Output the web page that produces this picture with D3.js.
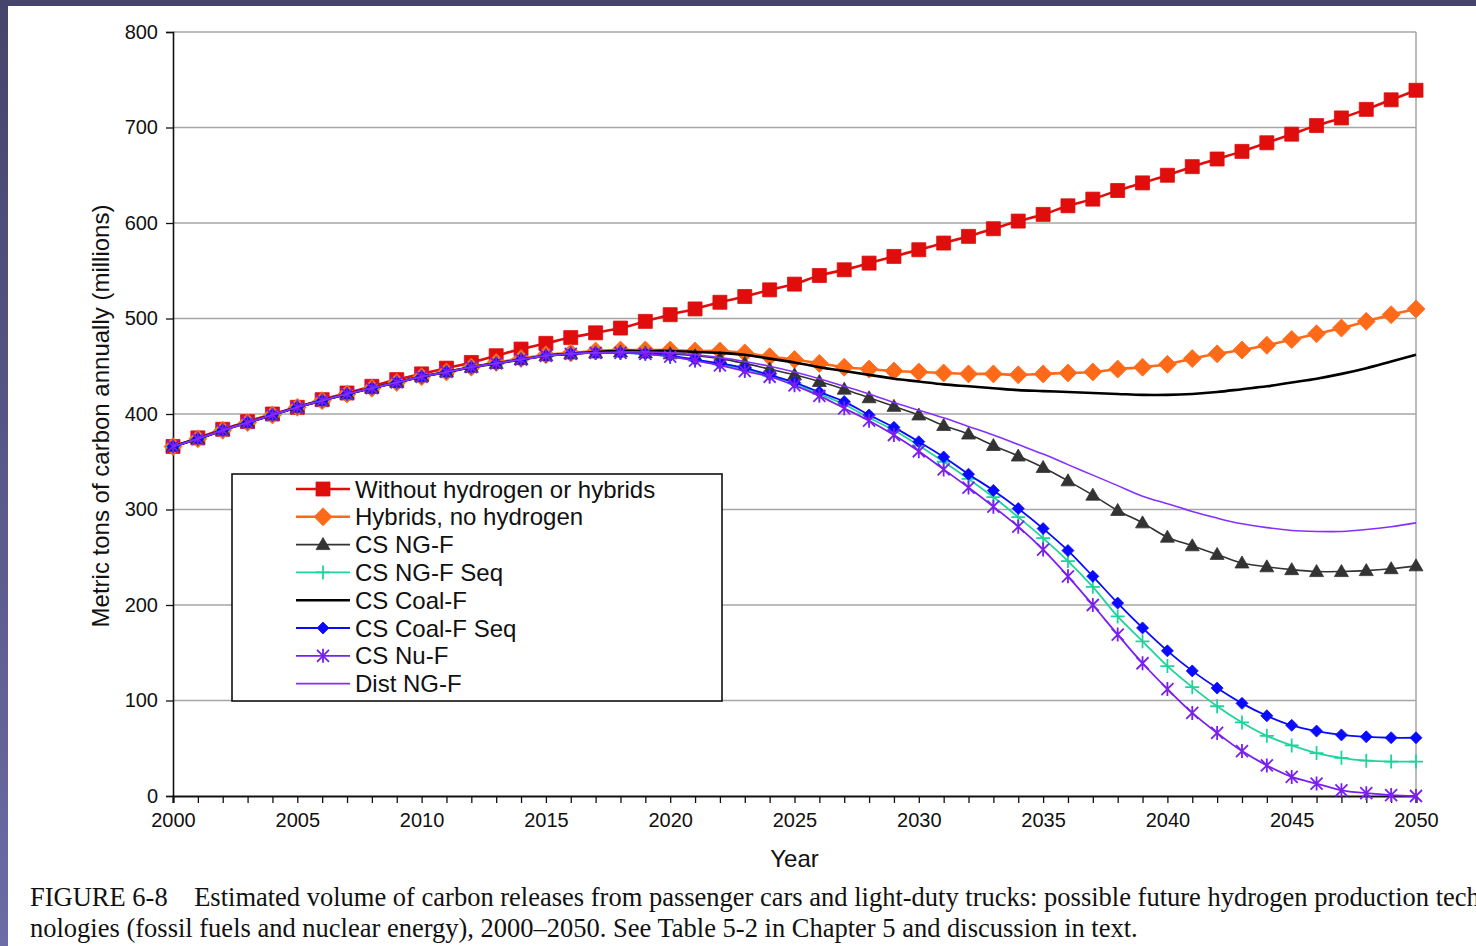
<!DOCTYPE html>
<html>
<head>
<meta charset="utf-8">
<script src="https://cdn.jsdelivr.net/npm/d3@7"></script>
<style>
  html, body { margin: 0; padding: 0; }
  body {
    width: 1476px; height: 946px; overflow: hidden;
    background: linear-gradient(180deg, #44446c 0%, #5a5a8c 55%, #6c6ca6 100%);
  }
  #chart { position: absolute; left: 8px; top: 6px; width: 1468px; height: 940px; background: #fff; }
  svg { display: block; }
</style>
</head>
<body>
<div id="chart"></div>
<script>
// ---------- Data (million metric tons of carbon, 2000-2050) ----------
const years = d3.range(2000, 2051);

const withoutH2 = [366,375,384,392,400,407,415,422,429,436, 442,448,454,461,468,474,480,485,490,497,
  504,510,517,523,530,536,545,551,558,565, 572,579,586,594,602,609,618,625,634,642,
  650,659,667,675,684,693,702,710,719,729, 739];
const hybrids = [366,374,383,391,399,407,414,421,427,433, 439,444,449,454,458,462,464,466,467,467,
  467,466,466,464,460,457,453,449,447,445, 444,443,442,442,441,442,443,444,447,449,
  452,458,463,467,472,478,484,490,497,504, 510];
const csNgF = [366,374,383,391,399,407,414,421,427,433, 439,444,449,453,457,461,463,464,465,464,
  463,461,458,453,447,441,434,426,417,408, 399,388,379,367,356,344,330,315,299,286,
  271,262,253,244,240,237,235,235,236,238, 241];
const csNgFSeq = [366,374,383,391,399,407,414,421,427,433, 439,444,449,453,457,461,463,464,464,463,
  460,456,452,447,440,432,421,410,396,383, 367,350,332,313,292,270,246,219,188,162,
  136,114,94,77,63,53,45,40,37,36, 36];
const csCoalF = [366,374,383,391,399,407,414,421,427,433, 439,444,449,453,457,461,463,465,466,466,
  466,465,464,462,458,454,449,445,441,437, 434,431,429,427,425,424,423,422,421,420,
  420,421,423,426,429,433,437,442,448,455, 462];
const csCoalFSeq = [366,374,383,391,399,407,414,421,427,433, 439,444,449,453,457,461,463,464,464,463,
  461,457,453,448,441,433,423,413,399,386, 371,355,337,320,301,280,257,230,202,176,
  152,131,113,97,84,74,68,64,62,61, 61];
const csNuF = [366,374,383,391,399,407,414,421,427,433, 439,444,449,453,457,461,463,464,464,463,
  460,456,451,445,439,430,419,406,393,378, 361,342,323,303,282,258,230,200,169,139,
  112,87,66,47,32,20,13,6,3,1, 0];
const distNgF = [366,374,383,391,399,407,414,421,427,433, 439,444,449,453,457,461,463,464,465,465,
  464,462,459,455,450,444,437,429,421,412, 404,396,387,378,368,358,347,336,325,314,
  306,298,291,285,281,278,277,277,279,282, 286];

const seriesNames = ["Without hydrogen or hybrids", "Hybrids, no hydrogen", "CS NG-F", "CS NG-F Seq",
  "CS Coal-F", "CS Coal-F Seq", "CS Nu-F", "Dist NG-F"];
const seriesValues = [withoutH2, hybrids, csNgF, csNgFSeq, csCoalF, csCoalFSeq, csNuF, distNgF];
const yTicks = [0, 100, 200, 300, 400, 500, 600, 700, 800];

// ---------- Styles ----------
const STYLES = [
  { color: "#e00d0d", width: 2.6, marker: "square" },
  { color: "#ff6a18", width: 2.6, marker: "diamond" },
  { color: "#333333", width: 1.6, marker: "triangle" },
  { color: "#1ed49c", width: 1.8, marker: "plus" },
  { color: "#000000", width: 2.6, marker: null },
  { color: "#0a0aff", width: 1.8, marker: "smalldiamond" },
  { color: "#7a1ff0", width: 1.8, marker: "star" },
  { color: "#8430ff", width: 1.6, marker: null },
];

function markerPath(type) {
  switch (type) {
    case "square": return "M-7,-7H7V7H-7Z";
    case "diamond": return "M0,-9L9,0L0,9L-9,0Z";
    case "smalldiamond": return "M0,-6L6,0L0,6L-6,0Z";
    case "triangle": return "M0,-7L7,5L-7,5Z";
    case "plus": return "M-7,0H7M0,-7V7";
    case "star": return "M-6,-6L6,6M6,-6L-6,6M0,-7V7";
  }
  return null;
}
const strokeOnly = (t) => t === "plus" || t === "star";

// ---------- Chart ----------
const W = 1468, H = 940, OX = 8, OY = 6;
const svg = d3.select("#chart").append("svg").attr("width", W).attr("height", H)
  .attr("font-family", "Liberation Sans, Arial, sans-serif");
const g = svg.append("g").attr("transform", `translate(${-OX},${-OY})`);

const x = d3.scaleLinear().domain([2000, 2050]).range([173, 1416]);
const y = d3.scaleLinear().domain([0, 800]).range([796, 32]);

// gridlines
g.append("g").selectAll("line").data(yTicks.filter((d) => d > 0)).enter().append("line")
  .attr("x1", x(2000)).attr("x2", x(2050))
  .attr("y1", (d) => y(d)).attr("y2", (d) => y(d))
  .attr("stroke", "#a6a6a6").attr("stroke-width", 1.3);
g.append("line").attr("x1", x(2050)).attr("x2", x(2050)).attr("y1", y(800)).attr("y2", y(0))
  .attr("stroke", "#a6a6a6").attr("stroke-width", 1.5);

// y axis
const yAxis = g.append("g").attr("transform", `translate(${x(2000)},0)`)
  .call(d3.axisLeft(y).tickValues(yTicks).tickSize(7).tickPadding(8));
yAxis.select(".domain").attr("stroke", "#111").attr("stroke-width", 1.6);
yAxis.selectAll(".tick line").attr("stroke", "#111").attr("stroke-width", 1.3);
yAxis.selectAll("text").attr("font-size", 20).attr("fill", "#111").attr("font-family", "Liberation Sans, Arial, sans-serif");

// x axis
const xAxis = g.append("g").attr("transform", `translate(0,${y(0)})`)
  .call(d3.axisBottom(x).tickValues(years).tickSize(7).tickPadding(10)
    .tickFormat((d) => (d % 5 === 0 ? d : "")));
xAxis.select(".domain").attr("stroke", "#111").attr("stroke-width", 2.2);
xAxis.selectAll(".tick line").attr("stroke", "#111").attr("stroke-width", 1.3);
xAxis.selectAll("text").attr("font-size", 20).attr("fill", "#111").attr("font-family", "Liberation Sans, Arial, sans-serif");

// axis titles
g.append("text").attr("x", x(2025)).attr("y", 867).attr("text-anchor", "middle")
  .attr("font-size", 24).attr("fill", "#111").text("Year");
g.append("text").attr("transform", `translate(109,${(y(800) + y(0)) / 2 + 2}) rotate(-90)`)
  .attr("text-anchor", "middle").attr("font-size", 24).attr("fill", "#111")
  .text("Metric tons of carbon annually (millions)");

// series
const line = d3.line().x((d, i) => x(years[i])).y((d) => y(d)).curve(d3.curveCatmullRom.alpha(0.5));
seriesValues.forEach((vals, k) => {
  const st = STYLES[k];
  const sg = g.append("g");
  sg.append("path").datum(vals).attr("d", line).attr("fill", "none")
    .attr("stroke", st.color).attr("stroke-width", st.width).attr("stroke-linejoin", "round");
  if (st.marker) {
    const p = markerPath(st.marker);
    sg.selectAll("path.m").data(vals).enter().append("path").attr("class", "m")
      .attr("transform", (d, i) => `translate(${x(years[i])},${y(d)})`)
      .attr("d", p)
      .attr("fill", strokeOnly(st.marker) ? "none" : st.color)
      .attr("stroke", st.color)
      .attr("stroke-width", strokeOnly(st.marker) ? 1.8 : 0.8);
  }
});

// legend
const lg = g.append("g");
lg.append("rect").attr("x", 232).attr("y", 474).attr("width", 490).attr("height", 227)
  .attr("fill", "#fff").attr("stroke", "#111").attr("stroke-width", 1.6);
seriesNames.forEach((name, k) => {
  const st = STYLES[k];
  const cy = 489 + k * 27.8;
  lg.append("line").attr("x1", 296).attr("x2", 350).attr("y1", cy).attr("y2", cy)
    .attr("stroke", st.color).attr("stroke-width", st.width);
  if (st.marker) {
    lg.append("path").attr("transform", `translate(323,${cy})`).attr("d", markerPath(st.marker))
      .attr("fill", strokeOnly(st.marker) ? "none" : st.color).attr("stroke", st.color)
      .attr("stroke-width", strokeOnly(st.marker) ? 1.8 : 0.8);
  }
  lg.append("text").attr("x", 355).attr("y", cy).attr("dy", "0.36em")
    .attr("font-size", 24).attr("fill", "#111").text(name);
});

// caption
const cap = g.append("text").attr("font-family", "Liberation Serif, Times New Roman, serif")
  .attr("font-size", 26.5).attr("fill", "#111");
cap.append("tspan").attr("x", 30).attr("y", 906).attr("xml:space", "preserve")
  .text("FIGURE 6-8    Estimated volume of carbon releases from passenger cars and light-duty trucks: possible future hydrogen production tech");
cap.append("tspan").attr("x", 30).attr("y", 937)
  .text("nologies (fossil fuels and nuclear energy), 2000–2050. See Table 5-2 in Chapter 5 and discussion in text.");
</script>
</body>
</html>
